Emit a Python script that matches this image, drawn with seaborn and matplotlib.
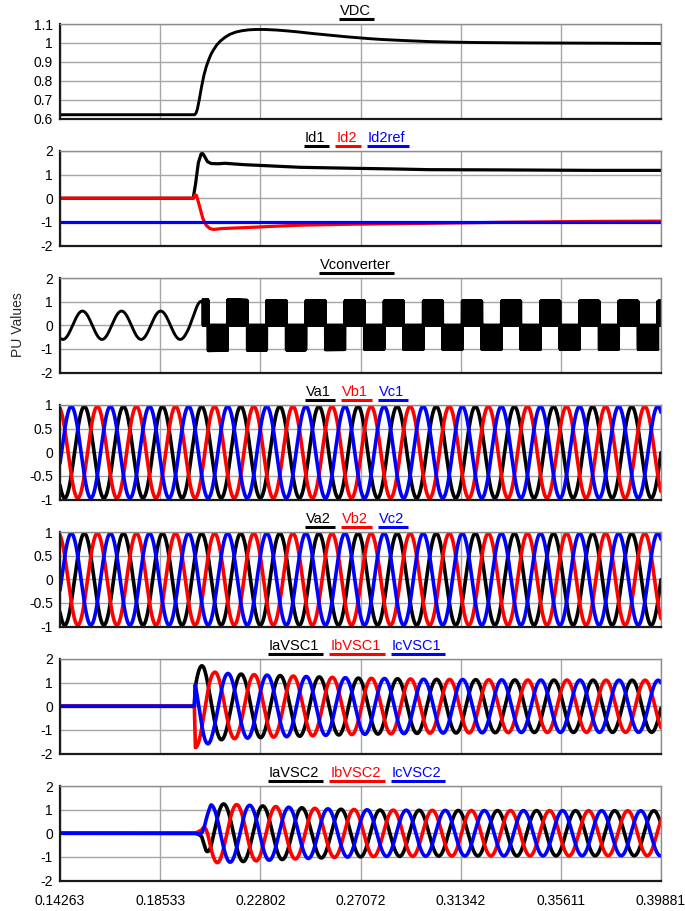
import numpy as np
import matplotlib
matplotlib.use("Agg")
import matplotlib.pyplot as plt
from matplotlib.lines import Line2D
import seaborn as sns

# ---------------- time axis ----------------
T_START, T_END = 0.14263, 0.39881
X_TICKS = [0.14263, 0.18533, 0.22802, 0.27072, 0.31342, 0.35611, 0.39881]
X_TICK_LABELS = ["0.14263", "0.18533", "0.22802", "0.27072", "0.31342", "0.35611", "0.39881"]
FREQ_HZ = 60.0

# ---------------- DC link voltage ----------------
VDC_T = [0.14263, 0.2000, 0.2006, 0.2012, 0.2020, 0.2030, 0.2040, 0.2050, 0.2060,
         0.2070, 0.2080, 0.2095, 0.2110, 0.2130, 0.2150, 0.2175, 0.2200, 0.2230,
         0.2260, 0.2300, 0.2350, 0.2400, 0.2450, 0.2500, 0.2550, 0.2600, 0.2650,
         0.2700, 0.2750, 0.2800, 0.2900, 0.3000, 0.3100, 0.3200, 0.3400, 0.3600,
         0.3800, 0.39881]
VDC_V = [0.620, 0.620, 0.628, 0.650, 0.700, 0.770, 0.830, 0.875, 0.910,
         0.940, 0.962, 0.990, 1.010, 1.030, 1.045, 1.057, 1.064, 1.069,
         1.071, 1.071, 1.068, 1.063, 1.057, 1.050, 1.044, 1.038, 1.032,
         1.027, 1.022, 1.018, 1.012, 1.007, 1.004, 1.002, 1.000, 0.999,
         0.998, 0.997]

# ---------------- d-axis currents ----------------
ID1_T = [0.14263, 0.1994, 0.2004, 0.2016, 0.2028, 0.2034, 0.2042, 0.2055, 0.2070,
         0.2100, 0.2130, 0.2170, 0.2215, 0.2300, 0.2450, 0.2664, 0.2850, 0.3000,
         0.3300, 0.3500, 0.3700, 0.39881]
ID1_V = [0.00, 0.00, 0.60, 1.50, 1.88, 1.90, 1.78, 1.55, 1.47,
         1.46, 1.48, 1.45, 1.42, 1.38, 1.31, 1.27, 1.24, 1.21,
         1.20, 1.19, 1.18, 1.18]
ID2_T = [0.14263, 0.1995, 0.2002, 0.2008, 0.2020, 0.2035, 0.2050, 0.2065, 0.2080,
         0.2120, 0.2222, 0.2330, 0.2449, 0.2664, 0.3000, 0.3300, 0.3500, 0.3700,
         0.39881]
ID2_V = [0.00, 0.00, 0.15, 0.12, -0.30, -0.85, -1.15, -1.28, -1.32,
         -1.28, -1.24, -1.19, -1.14, -1.10, -1.06, -1.02, -1.00, -0.98,
         -0.97]
ID2REF_T = [T_START, T_END]
ID2REF_V = [-1.0, -1.0]

# ---------------- converter terminal voltage ----------------
VCONV_PRE_PEAK_T = 0.1522            # a positive peak of the sine before start-up
VCONV_PRE_AMP_T = [0.14263, 0.1965, 0.2000, 0.2036]
VCONV_PRE_AMP_V = [0.60, 0.60, 0.80, 1.10]
VCONV_PWM_START = 0.2036
VCONV_PWM_CENTER_T = 0.21825          # middle of a positive pulse block
VCONV_LEVEL_T = [0.2036, 0.2300, 0.2700, 0.39881]
VCONV_LEVEL_V = [1.08, 1.05, 1.03, 1.02]
PWM_STEP = 5e-5

# ---------------- grid voltages ----------------
VABC1_AMP = 0.97
VABC1_PEAK_T = 0.1530                # a positive peak of phase a
VABC2_AMP = 0.97
VABC2_PEAK_T = 0.1530

# ---------------- VSC phase currents ----------------
IVSC1_PEAK_T = 0.21983
IVSC1_ENV_T = [0.1999, 0.2003, 0.2040, 0.2080, 0.2150, 0.2300, 0.2500, 0.2700,
               0.3000, 0.3400, 0.39881]
IVSC1_ENV_V = [0.00, 1.75, 1.70, 1.45, 1.38, 1.32, 1.25, 1.19, 1.14, 1.11, 1.10]
IVSC2_PEAK_T = 0.21241
IVSC2_ENV_T = [0.2003, 0.2030, 0.2050, 0.2070, 0.2100, 0.2200, 0.2400, 0.2600,
               0.2800, 0.3200, 0.39881]
IVSC2_ENV_V = [0.00, 0.15, 0.80, 1.20, 1.25, 1.20, 1.10, 1.02, 0.98, 0.96, 0.95]

PHASE_COLORS = ["#000000", "#ff0000", "#0000ff"]

# ---------------- layout (pixels) ----------------
FIG_W, FIG_H = 685, 911
AX_LEFT, AX_RIGHT = 60, 661
AX_TOP0, AX_STEP, AX_H = 24, 127, 94.5
HEADER_CX = 355
TICK_FS = 10
HEADER_FS = 10.5

sns.set_style("white")
plt.rcParams["font.family"] = ["Liberation Sans", "DejaVu Sans"]
plt.rcParams["axes.unicode_minus"] = False

fig = plt.figure(figsize=(FIG_W / 100, FIG_H / 100), dpi=100)
renderer = fig.canvas.get_renderer()

omega = 2 * np.pi * FREQ_HZ
t = np.linspace(T_START, T_END, 12810)


def fx(x):
    return x / FIG_W


def fy(y):
    return 1 - y / FIG_H


def make_axes(i):
    top = AX_TOP0 + AX_STEP * i
    ax = fig.add_axes([fx(AX_LEFT), fy(top + AX_H), (AX_RIGHT - AX_LEFT) / FIG_W, AX_H / FIG_H])
    return ax


def style_axes(ax, yticks, ylabels, ylim, show_x=False):
    ax.set_xlim(T_START, T_END)
    ax.set_ylim(*ylim)
    ax.set_xticks(X_TICKS)
    ax.set_yticks(yticks)
    ax.set_yticklabels(ylabels)
    if show_x:
        ax.set_xticklabels(X_TICK_LABELS)
    else:
        ax.set_xticklabels([])
    ax.tick_params(axis="both", length=0, labelsize=TICK_FS, colors="#000000")
    ax.tick_params(axis="y", pad=5)
    ax.tick_params(axis="x", pad=10)
    ax.grid(True, color="#a6a6a6", linewidth=1.0)
    ax.set_axisbelow(True)
    for side in ("top", "right"):
        ax.spines[side].set_color("#8c8c8c")
        ax.spines[side].set_linewidth(1.0)
    for side in ("left", "bottom"):
        ax.spines[side].set_color("#1a1a1a")
        ax.spines[side].set_linewidth(1.6)
    ax.set_xlabel("")
    ax.set_ylabel("")


def line(ax, x, y, color, lw):
    sns.lineplot(x=np.asarray(x), y=np.asarray(y), ax=ax, color=color, linewidth=lw,
                 estimator=None, sort=False, legend=False)


def header(i, names, colors, gap=11):
    top = AX_TOP0 + AX_STEP * i
    y_txt = top - 13
    y_bar = top - 5
    items = []
    for n, c in zip(names, colors):
        tx = fig.text(0, fy(y_txt), n, color=c, fontsize=HEADER_FS, ha="left", va="center")
        items.append((tx, tx.get_window_extent(renderer).width, c))
    total = sum(w for _, w, _ in items) + gap * (len(items) - 1)
    x = HEADER_CX - total / 2
    for tx, w, c in items:
        tx.set_x(fx(x))
        fig.add_artist(Line2D([fx(x - 1), fx(x + w + 4)], [fy(y_bar), fy(y_bar)],
                              color=c, linewidth=2.2, solid_capstyle="butt"))
        x += w + gap


def three_phase(peak_t, amp):
    return [amp * np.cos(omega * (t - peak_t) - k * 2 * np.pi / 3) for k in range(3)]


# ---- panel 1: DC voltage ----
ax = make_axes(0)
line(ax, VDC_T, VDC_V, "#000000", 2.1)
style_axes(ax, [0.6, 0.7, 0.8, 0.9, 1.0, 1.1], ["0.6", "0.7", "0.8", "0.9", "1", "1.1"], (0.6, 1.1))
header(0, ["VDC"], ["#000000"])

# ---- panel 2: d-axis currents ----
ax = make_axes(1)
line(ax, ID1_T, ID1_V, "#000000", 2.3)
line(ax, ID2_T, ID2_V, "#ff0000", 2.3)
line(ax, ID2REF_T, ID2REF_V, "#0000ff", 2.3)
style_axes(ax, [-2, -1, 0, 1, 2], ["-2", "-1", "0", "1", "2"], (-2, 2))
header(1, ["Id1", "Id2", "Id2ref"], PHASE_COLORS)

# ---- panel 3: converter voltage ----
ax = make_axes(2)
t_pre = t[t < VCONV_PWM_START]
v_pre = np.interp(t_pre, VCONV_PRE_AMP_T, VCONV_PRE_AMP_V) * np.cos(omega * (t_pre - VCONV_PRE_PEAK_T))
t_pwm = np.arange(VCONV_PWM_START, T_END, PWM_STEP)
polarity = np.sign(np.cos(omega * (t_pwm - VCONV_PWM_CENTER_T)))
gate = (np.arange(t_pwm.size) % 2 == 0).astype(float)
v_pwm = polarity * gate * np.interp(t_pwm, VCONV_LEVEL_T, VCONV_LEVEL_V)
line(ax, np.concatenate([t_pre, t_pwm]), np.concatenate([v_pre, v_pwm]), "#000000", 2.1)
style_axes(ax, [-2, -1, 0, 1, 2], ["-2", "-1", "0", "1", "2"], (-2, 2))
header(2, ["Vconverter"], ["#000000"])

# ---- panels 4, 5: grid voltages ----
for idx, (pk, amp, names) in enumerate([(VABC1_PEAK_T, VABC1_AMP, ["Va1", "Vb1", "Vc1"]),
                                         (VABC2_PEAK_T, VABC2_AMP, ["Va2", "Vb2", "Vc2"])]):
    ax = make_axes(3 + idx)
    for v, c in zip(three_phase(pk, amp), PHASE_COLORS):
        line(ax, t, v, c, 2.6)
    style_axes(ax, [-1, -0.5, 0, 0.5, 1], ["-1", "-0.5", "0", "0.5", "1"], (-1, 1))
    header(3 + idx, names, PHASE_COLORS)

# ---- panels 6, 7: VSC currents ----
for idx, (pk, env_t, env_v, names) in enumerate([
        (IVSC1_PEAK_T, IVSC1_ENV_T, IVSC1_ENV_V, ["IaVSC1", "IbVSC1", "IcVSC1"]),
        (IVSC2_PEAK_T, IVSC2_ENV_T, IVSC2_ENV_V, ["IaVSC2", "IbVSC2", "IcVSC2"])]):
    ax = make_axes(5 + idx)
    env = np.interp(t, env_t, env_v, left=0.0)
    for v, c in zip(three_phase(pk, 1.0), PHASE_COLORS):
        line(ax, t, env * v, c, 2.6)
    style_axes(ax, [-2, -1, 0, 1, 2], ["-2", "-1", "0", "1", "2"], (-2, 2), show_x=(idx == 1))
    header(5 + idx, names, PHASE_COLORS)

fig.text(fx(18), fy(325), "PU Values", rotation=90, fontsize=TICK_FS, ha="center", va="center")

fig.savefig("out.png", dpi=100)
